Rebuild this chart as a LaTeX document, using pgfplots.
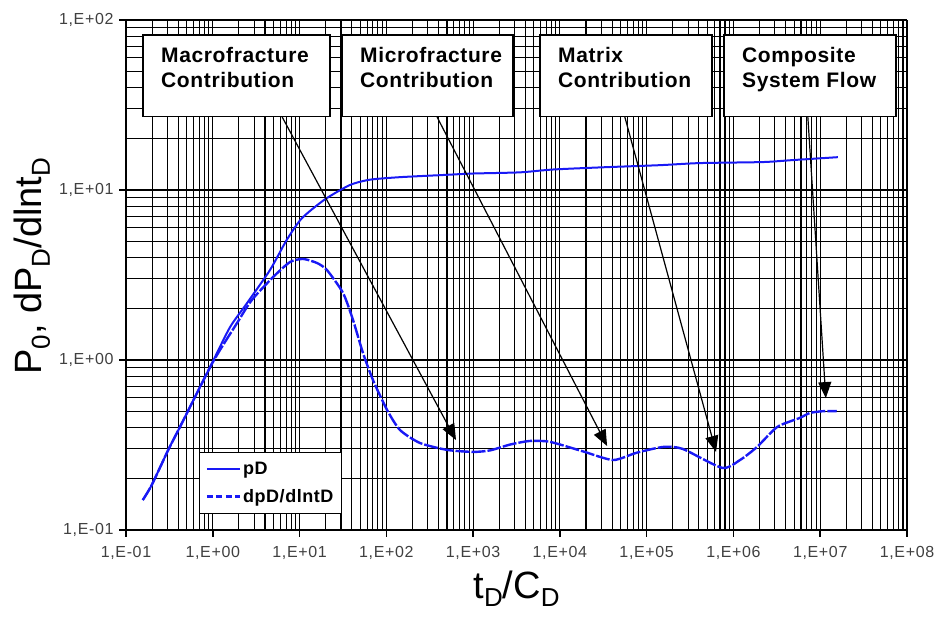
\documentclass[border=0pt]{standalone}
\usepackage{pgfplots}
\pgfplotsset{compat=1.18}
\usepackage{pgfplotstable}
\usepackage{fontspec}
\setmainfont{Liberation Sans}
\usetikzlibrary{arrows.meta}
\definecolor{curveblue}{RGB}{25,25,245}
\newcommand{\sub}[2]{\raisebox{-0.22em}{\fontsize{#2}{#2}\selectfont #1}}

\pgfplotstableread{
t pd
0.156 0.150
0.198 0.184
0.307 0.296
0.419 0.404
1.0 0.98
1.58 1.56
2.48 2.16
4.56 3.38
7.11 5.08
10.6 6.81
19.6 8.81
38.1 10.7
64.8 11.5
144 11.9
450 12.25
1000 12.5
3470 12.7
8330 13.2
31400 13.6
143000 14.0
411000 14.4
2190000 14.6
4850000 15.0
16000000 15.6
}\pDtable

\pgfplotstableread{
t dpd
0.156 0.150
0.198 0.184
0.307 0.296
0.419 0.404
1.0 0.97
1.89 1.64
2.81 2.25
4.94 3.07
7.76 3.77
11 3.93
15.9 3.72
20.7 3.38
31.7 2.48
41.3 1.72
53.8 1.10
70.2 0.762
102 0.508
144 0.387
244 0.325
500 0.296
1000 0.288
1570 0.294
2660 0.318
4500 0.334
7700 0.330
18500 0.290
41000 0.258
77000 0.285
155000 0.308
260000 0.300
740000 0.232
1190000 0.258
1870000 0.308
3200000 0.404
5800000 0.456
7600000 0.488
10800000 0.500
15500000 0.500
}\dpDtable

\begin{document}
\begin{tikzpicture}
\useasboundingbox (-126pt,-98pt) rectangle (815pt,530pt);
\begin{axis}[
  at={(0,0)}, anchor=south west,
  scale only axis, width=781pt, height=510pt,
  xmode=log, ymode=log,
  xmin=0.1, xmax=1e8, ymin=0.1, ymax=100,
  axis x line=bottom, axis y line=left,
  axis line style={-, black, line width=2.2pt},
  grid=both,
  major grid style={black, line width=1.1pt},
  minor grid style={black, line width=1.1pt},
  tick align=outside,
  major tick length=7pt,
  minor tick length=0pt,
  tick style={black, line width=1.5pt},
  xtick={0.1,1,10,100,1000,10000,100000,1000000,10000000,100000000},
  xticklabels={{1,E-01},{1,E+00},{1,E+01},{1,E+02},{1,E+03},{1,E+04},{1,E+05},{1,E+06},{1,E+07},{1,E+08}},
  ytick={0.1,1,10,100},
  yticklabels={{1,E-01},{1,E+00},{1,E+01},{1,E+02}},
  tick label style={font=\fontsize{16}{16}\selectfont\addfontfeature{LetterSpace=4}, text=black!75},
  xticklabel style={yshift=-6pt},
  yticklabel style={xshift=-2pt},
  xlabel={t\sub{D}{26}/C\sub{D}{26}},
  ylabel={P\sub{0}{26}, dP\sub{D}{26}/dlnt\sub{D}{26}},
  xlabel style={font=\fontsize{38}{38}\selectfont, yshift=-4pt},
  ylabel style={font=\fontsize{38}{38}\selectfont, at={(ticklabel cs:0.517)}, yshift=2pt},
  legend style={at={(rel axis cs:0.0935,0.153)}, anchor=north west, draw=black, line width=1pt,
    font=\bfseries\fontsize{18}{18}\selectfont\addfontfeature{LetterSpace=3}, inner xsep=6pt, inner ysep=8pt, row sep=9pt,
    cells={anchor=west}},
  legend image code/.code={\draw[#1] (0pt,0pt) -- (33pt,0pt);},
]
\addlegendimage{curveblue, line width=2pt}
\addlegendentry{pD}
\addlegendimage{curveblue, line width=2.6pt, dash pattern=on 6pt off 3.5pt}
\addlegendentry{dpD/dlntD}
\addplot[curveblue, line width=2pt, smooth, tension=0.4, forget plot] table[x=t,y=pd]{\pDtable};
\addplot[curveblue, line width=2.4pt, dash pattern=on 14pt off 2pt, smooth, tension=0.4, forget plot] table[x=t,y=dpd]{\dpDtable};

% arrows
\draw[black, line width=1.2pt, -{Triangle[length=16pt,width=13pt]}] (axis cs:6.3,26.9) -- (axis cs:635,0.338);
\draw[black, line width=1.2pt, -{Triangle[length=16pt,width=13pt]}] (axis cs:384,26.9) -- (axis cs:35000,0.312);
\draw[black, line width=1.2pt, -{Triangle[length=16pt,width=13pt]}] (axis cs:56000,26.9) -- (axis cs:630000,0.288);
\draw[black, line width=1.2pt, -{Triangle[length=16pt,width=13pt]}] (axis cs:7200000,26.9) -- (axis cs:11600000,0.597);

% boxes
\draw[black, line width=1.6pt, fill=white] (rel axis cs:0.0218,0.811) rectangle (rel axis cs:0.2612,0.9706);
\draw[black, line width=1.6pt, fill=white] (rel axis cs:0.2766,0.811) rectangle (rel axis cs:0.4955,0.9706);
\draw[black, line width=1.6pt, fill=white] (rel axis cs:0.5301,0.811) rectangle (rel axis cs:0.7503,0.9706);
\draw[black, line width=1.6pt, fill=white] (rel axis cs:0.7657,0.811) rectangle (rel axis cs:0.9859,0.9706);

\tikzset{boxtxt/.style={anchor=base west, inner sep=0pt, font=\bfseries\fontsize{21}{24}\selectfont\addfontfeature{LetterSpace=3}}}
\node[boxtxt] at (rel axis cs:0.0448,0.9157) {Macrofracture};
\node[boxtxt] at (rel axis cs:0.0448,0.8686) {Contribution};
\node[boxtxt] at (rel axis cs:0.2996,0.9157) {Microfracture};
\node[boxtxt] at (rel axis cs:0.2996,0.8686) {Contribution};
\node[boxtxt] at (rel axis cs:0.5531,0.9157) {Matrix};
\node[boxtxt] at (rel axis cs:0.5531,0.8686) {Contribution};
\node[boxtxt] at (rel axis cs:0.7887,0.9157) {Composite};
\node[boxtxt] at (rel axis cs:0.7887,0.8686) {System Flow};
\end{axis}
\end{tikzpicture}
\end{document}
